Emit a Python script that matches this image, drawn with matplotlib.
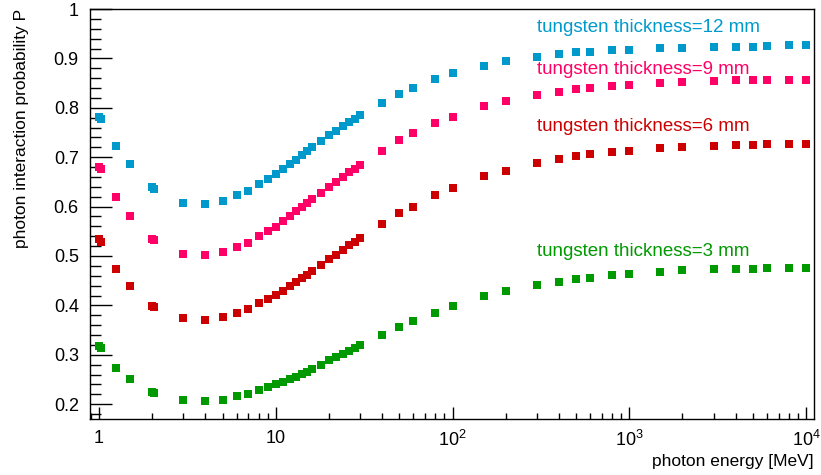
import matplotlib.pyplot as plt
from matplotlib.ticker import FixedLocator, FixedFormatter, MultipleLocator, LogLocator, NullFormatter

plt.rcParams['font.family'] = ['Liberation Sans', 'DejaVu Sans']
plt.rcParams['mathtext.fontset'] = 'custom'
plt.rcParams['mathtext.rm'] = 'Liberation Sans'

energy = [1, 1.022, 1.25, 1.5, 2, 2.044, 3, 4, 5, 6, 7, 8, 9, 10, 11, 12, 13, 14, 15, 16,
          18, 20, 22, 24, 26, 28, 30, 40, 50, 60, 80, 100, 150, 200, 300, 400, 500, 600,
          800, 1000, 1500, 2000, 3000, 4000, 5000, 6000, 8000, 10000]

p_12mm = [0.782, 0.777, 0.723, 0.686, 0.639, 0.636, 0.608, 0.606, 0.611, 0.624, 0.631,
          0.645, 0.656, 0.666, 0.676, 0.686, 0.695, 0.704, 0.712, 0.720, 0.732, 0.744,
          0.754, 0.763, 0.771, 0.778, 0.785, 0.809, 0.828, 0.841, 0.858, 0.870, 0.885,
          0.894, 0.903, 0.909, 0.912, 0.913, 0.917, 0.918, 0.921, 0.921, 0.923, 0.923,
          0.924, 0.925, 0.927, 0.927]

p_9mm = [0.681, 0.676, 0.619, 0.581, 0.535, 0.533, 0.505, 0.502, 0.508, 0.519, 0.527,
         0.540, 0.550, 0.559, 0.571, 0.581, 0.592, 0.600, 0.608, 0.615, 0.627, 0.640,
         0.650, 0.660, 0.670, 0.676, 0.684, 0.713, 0.734, 0.749, 0.769, 0.782, 0.803,
         0.814, 0.826, 0.833, 0.838, 0.840, 0.844, 0.846, 0.850, 0.852, 0.854, 0.856,
         0.856, 0.857, 0.857, 0.857]

p_6mm = [0.535, 0.528, 0.474, 0.439, 0.399, 0.397, 0.374, 0.371, 0.377, 0.385, 0.393,
         0.404, 0.413, 0.422, 0.430, 0.439, 0.448, 0.456, 0.462, 0.470, 0.482, 0.494,
         0.503, 0.513, 0.522, 0.529, 0.536, 0.565, 0.587, 0.600, 0.623, 0.638, 0.661,
         0.673, 0.688, 0.697, 0.702, 0.706, 0.711, 0.713, 0.718, 0.721, 0.723, 0.725,
         0.725, 0.726, 0.727, 0.727]

p_3mm = [0.317, 0.313, 0.274, 0.250, 0.225, 0.223, 0.208, 0.207, 0.209, 0.216, 0.220,
         0.228, 0.234, 0.241, 0.245, 0.251, 0.256, 0.262, 0.266, 0.271, 0.280, 0.289,
         0.296, 0.302, 0.308, 0.313, 0.319, 0.340, 0.356, 0.369, 0.385, 0.398, 0.418,
         0.429, 0.441, 0.448, 0.454, 0.456, 0.462, 0.464, 0.468, 0.471, 0.473, 0.474,
         0.474, 0.475, 0.476, 0.476]

labels = ["tungsten thickness=12 mm", "tungsten thickness=9 mm",
          "tungsten thickness=6 mm", "tungsten thickness=3 mm"]
label_y = [0.962, 0.877, 0.762, 0.510]
colors = ["#0099cc", "#ff0066", "#cc0000", "#009900"]

x_ticks = [1, 10, 100, 1000, 10000]
x_ticklabels = ["1", "10", "$10^{2}$", "$10^{3}$", "$10^{4}$"]

fig = plt.figure(figsize=(8.21, 4.75), dpi=100)
ax = fig.add_axes([0.1096, 0.1179, 0.8819, 0.8631])

for series, color in zip([p_12mm, p_9mm, p_6mm, p_3mm], colors):
    ax.plot(energy, series, linestyle="none", marker="s", markersize=5.6,
            markeredgewidth=0, color=color)

for text, y, color in zip(labels, label_y, colors):
    ax.text(300, y, text, color=color, fontsize=13.5, va="center", ha="left")

ax.set_xscale("log")
ax.set_xlim(0.889, 11100)
ax.set_ylim(0.17, 1.0)

ax.xaxis.set_major_locator(FixedLocator(x_ticks))
ax.xaxis.set_major_formatter(FixedFormatter(x_ticklabels))
ax.xaxis.set_minor_locator(LogLocator(base=10, subs=range(2, 10), numticks=20))
ax.xaxis.set_minor_formatter(NullFormatter())
ax.yaxis.set_major_locator(MultipleLocator(0.1))
ax.yaxis.set_minor_locator(MultipleLocator(0.02))
ax.yaxis.set_major_formatter(plt.FuncFormatter(lambda v, p: "1" if abs(v - 1) < 1e-6 else "%.1f" % v))

ax.tick_params(axis="y", which="major", direction="in", length=16, width=1, labelsize=13, pad=8)
ax.tick_params(axis="y", which="minor", direction="in", length=8, width=1)
ax.tick_params(axis="x", which="major", direction="in", length=9, width=1, labelsize=13, pad=8)
ax.tick_params(axis="x", which="minor", direction="in", length=4.5, width=1)

for s in ax.spines.values():
    s.set_linewidth(1)

fig.text(0.9915, 0.012, "photon energy [MeV]", ha="right", va="bottom", fontsize=12.5)
fig.text(0.026, 0.981, "photon interaction probability P", ha="center", va="top",
         rotation=90, fontsize=12.5)

plt.savefig("out.png", dpi=100)
